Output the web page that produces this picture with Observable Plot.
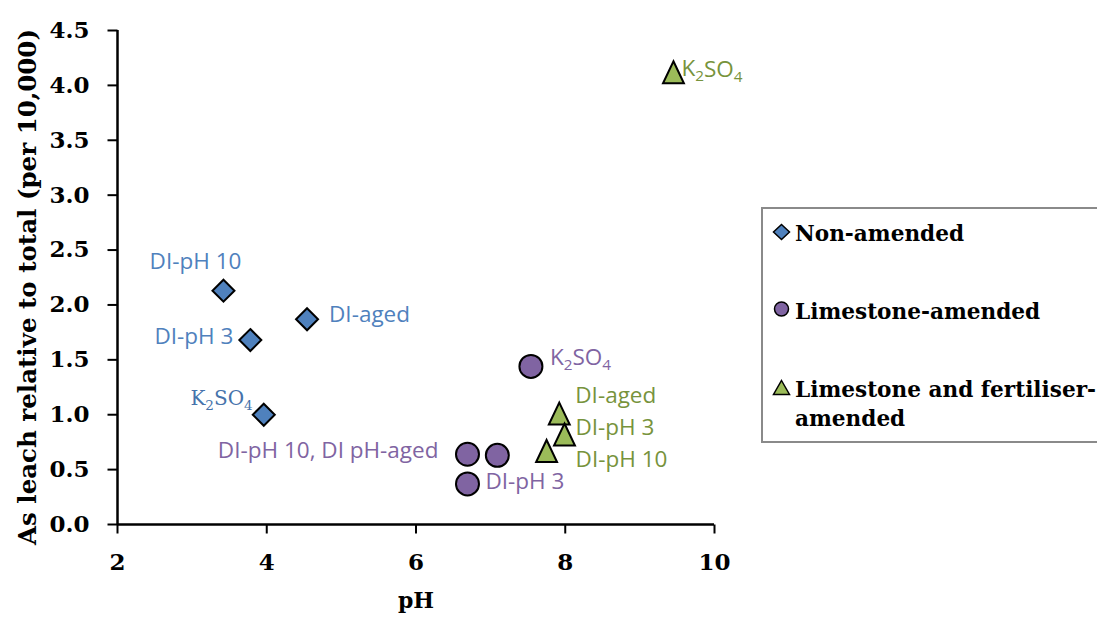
<!DOCTYPE html>
<html>
<head>
<meta charset="utf-8">
<script src="https://cdn.jsdelivr.net/npm/d3@7"></script>
<script src="https://cdn.jsdelivr.net/npm/@observablehq/plot@0.6"></script>
<style>
  body { margin: 0; background: #fff; }
  #wrap { position: relative; width: 1097px; height: 617px; overflow: hidden; background: #fff; }
</style>
</head>
<body>
<div id="wrap"></div>
<script>
// ---------------- DATA ----------------
const xTicks = [2, 4, 6, 8, 10];
const yTicks = [0, 0.5, 1, 1.5, 2, 2.5, 3, 3.5, 4, 4.5];
const xTitle = "pH";
const yTitle = "As leach relative to total (per 10,000)";
const seriesNames = ["Non-amended", "Limestone-amended", "Limestone and fertiliser-amended"];

const nonAmendedPH = [3.42, 3.78, 4.54, 3.96];
const nonAmendedAs = [2.13, 1.68, 1.87, 1.00];
const nonAmendedLabels = ["DI-pH 10", "DI-pH 3", "DI-aged", "K2SO4"];

const limestonePH = [7.54, 6.69, 7.09, 6.69];
const limestoneAs = [1.44, 0.64, 0.63, 0.37];
const limestoneLabels = ["K2SO4", "DI-pH 10, DI pH-aged", "", "DI-pH 3"];

const fertPH = [7.92, 7.99, 7.75, 9.45];
const fertAs = [1.01, 0.82, 0.67, 4.12];
const fertLabels = ["DI-aged", "DI-pH 3", "DI-pH 10", "K2SO4"];

// ---------------- STYLE / PLACEMENT ----------------
const fills = ["#4F81BD", "#8064A2", "#9BBB59"];
const labelColors = ["#4F81BD", "#8064A2", "#77933C"];
const serifLabelColor = "#4673AB";

const labelPlacement = [
  [ {dx: -28, dy: -29, a: "middle"}, {dx: -17, dy: -3, a: "end"}, {dx: 22, dy: -4, a: "start"}, {dx: -11, dy: -16, a: "end", serif: true} ],
  [ {dx: 19, dy: -9, a: "start"}, {dx: -29, dy: -3, a: "end"}, null, {dx: 18, dy: -2, a: "start"} ],
  [ {dx: 16, dy: -18, a: "start"}, {dx: 11, dy: -7, a: "start"}, {dx: 29, dy: 9, a: "start"}, {dx: 8, dy: -3, a: "start"} ]
];

// custom symbols (r -> size = PI r^2)
const diamondSym = { draw(ctx, size) { const r = Math.sqrt(size / Math.PI); ctx.moveTo(0, -r); ctx.lineTo(r, 0); ctx.lineTo(0, r); ctx.lineTo(-r, 0); ctx.closePath(); } };
const circleSym = { draw(ctx, size) { const r = Math.sqrt(size / Math.PI); ctx.moveTo(r, 0); ctx.arc(0, 0, r, 0, 2 * Math.PI); } };
const triangleSym = { draw(ctx, size) { const r = Math.sqrt(size / Math.PI); ctx.moveTo(0, -r); ctx.lineTo(0.95 * r, r); ctx.lineTo(-0.95 * r, r); ctx.closePath(); } };
const tickLeftSym = { draw(ctx) { ctx.moveTo(-10, 0); ctx.lineTo(0, 0); } };
const tickDownSym = { draw(ctx) { ctx.moveTo(0, 0); ctx.lineTo(0, 9); } };
const symbols = [diamondSym, circleSym, triangleSym];
const radii = [11, 11.5, 11];

const seriesX = [nonAmendedPH, limestonePH, fertPH];
const seriesY = [nonAmendedAs, limestoneAs, fertAs];
const seriesL = [nonAmendedLabels, limestoneLabels, fertLabels];

const rows = seriesNames.map((name, s) => seriesX[s].map((x, i) => ({series: name, s, i, pH: x, as: seriesY[s][i], label: seriesL[s][i]})));

const x0 = xTicks[0], x1 = xTicks[xTicks.length - 1];
const y0 = yTicks[0], y1 = yTicks[yTicks.length - 1];
const tickFont = {fontFamily: "DejaVu Serif", fontWeight: "bold", fontSize: 23, fill: "#000"};

const marks = [
  // axis lines
  Plot.ruleX([x0], {y1: y0, y2: y1, stroke: "#000", strokeWidth: 2.5}),
  Plot.ruleY([y0], {x1: x0, x2: x1, stroke: "#000", strokeWidth: 2.5}),
  // ticks
  Plot.dot(yTicks, {x: () => x0, y: d => d, symbol: () => tickLeftSym, r: 5, fill: "none", stroke: "#000", strokeWidth: 2}),
  Plot.dot(xTicks, {x: d => d, y: () => y0, symbol: () => tickDownSym, r: 5, fill: "none", stroke: "#000", strokeWidth: 2}),
  // tick labels
  Plot.text(yTicks, {x: () => x0, y: d => d, text: d => d3.format(".1f")(d), textAnchor: "end", lineAnchor: "middle", dx: -28, ...tickFont}),
  Plot.text(xTicks, {x: d => d, y: () => y0, text: d => String(d), textAnchor: "middle", lineAnchor: "top", dy: 29, ...tickFont})
];

rows.forEach((data, s) => {
  marks.push(Plot.dot(data, {x: "pH", y: "as", symbol: () => symbols[s], r: radii[s], fill: fills[s], stroke: "#000", strokeWidth: 2}));
});

rows.forEach((data, s) => {
  data.forEach((d, i) => {
    const p = labelPlacement[s][i];
    if (!p || !d.label) return;
    marks.push(Plot.text([d], {
      x: "pH", y: "as", text: "label",
      dx: p.dx, dy: p.dy, textAnchor: p.a, lineAnchor: "middle",
      fill: p.serif ? serifLabelColor : labelColors[s],
      fontFamily: p.serif ? "DejaVu Serif" : "Open Sans",
      fontSize: p.serif ? 20 : 22.5
    }));
  });
});

marks.push(Plot.text([xTitle], {text: d => d, frameAnchor: "bottom", dy: 76, lineAnchor: "middle", fontFamily: "DejaVu Serif", fontWeight: "bold", fontSize: 22, fill: "#000"}));

const chart = Plot.plot({
  width: 1097,
  height: 617,
  marginLeft: 117,
  marginRight: 383,
  marginTop: 30,
  marginBottom: 93,
  style: {background: "#fff", color: "#000", overflow: "visible", fontFamily: "DejaVu Serif"},
  x: {domain: [x0, x1], axis: null},
  y: {domain: [y0, y1], axis: null},
  marks
});

const svg = d3.select(chart);

// Subscripts for K2SO4
svg.selectAll("text").each(function() {
  if (this.textContent === "K2SO4") {
    this.innerHTML = 'K<tspan font-size="68%" dy="0.33em">2</tspan><tspan dy="-0.22em">SO</tspan><tspan font-size="68%" dy="0.33em">4</tspan>';
  }
});

// Y axis title (rotated)
svg.append("text")
  .attr("transform", "translate(36,287) rotate(-90)")
  .attr("text-anchor", "middle")
  .attr("font-family", "DejaVu Serif").attr("font-weight", "bold").attr("font-size", 24.5)
  .attr("fill", "#000")
  .text(yTitle);

// Legend
const lg = svg.append("g").attr("class", "legend").attr("text-anchor", "start");
lg.append("rect").attr("x", 762).attr("y", 208).attr("width", 345).attr("height", 234)
  .attr("fill", "#fff").attr("stroke", "#8a8a8a").attr("stroke-width", 2);
const legendRows = [
  {cy: 232, lines: [seriesNames[0]], base: [241]},
  {cy: 309, lines: [seriesNames[1]], base: [319]},
  {cy: 388, lines: ["Limestone and fertiliser-", "amended"], base: [397, 426]}
];
const legendSymbolPaths = [
  "M0,-7.5L8,0L0,7.5L-8,0Z",
  "M7,0A7,7 0 1,1 -7,0A7,7 0 1,1 7,0Z",
  "M0,-7.5L8,6.5L-8,6.5Z"
];
legendRows.forEach((r, s) => {
  lg.append("path").attr("d", legendSymbolPaths[s]).attr("transform", `translate(781.5,${r.cy})`)
    .attr("fill", fills[s]).attr("stroke", "#000").attr("stroke-width", 1.5);
  r.lines.forEach((t, k) => {
    lg.append("text").attr("x", 795).attr("y", r.base[k]).attr("text-anchor", "start").text(t)
      .attr("font-family", "DejaVu Serif").attr("font-weight", "bold").attr("font-size", 21.6).attr("fill", "#000");
  });
});

document.getElementById("wrap").appendChild(chart);
</script>
</body>
</html>
